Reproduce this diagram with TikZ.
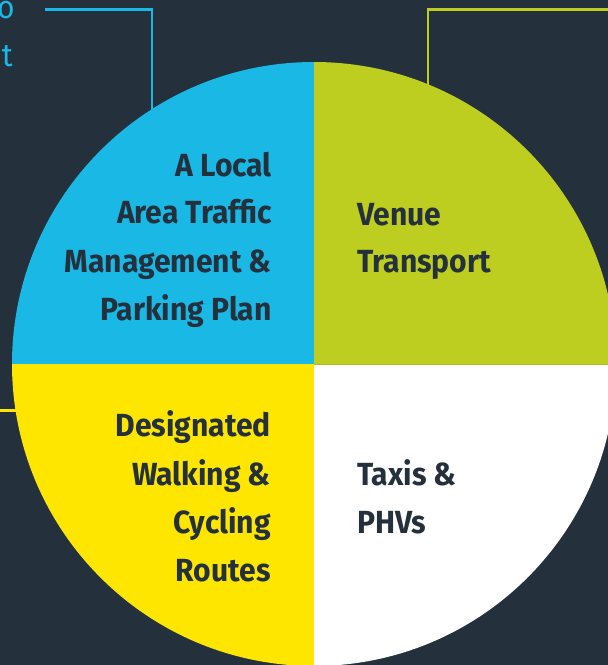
\documentclass[tikz,border=0pt]{standalone}
\usepackage{fontspec}
\setmainfont{Fira Sans}[FakeStretch=0.94]
\definecolor{bg}{HTML}{25303D}
\definecolor{cblue}{HTML}{19B8E5}
\definecolor{cgreen}{HTML}{BDCE20}
\definecolor{cyellow}{HTML}{FFE600}
\definecolor{cline}{HTML}{A9BA1C}
\begin{document}
\begin{tikzpicture}[x=1pt,y=-1pt,
  lbl/.style={inner sep=0pt,text=bg,font=\fontsize{32}{38}\selectfont\bfseries},
  lblr/.style={lbl,anchor=base east},
  lbll/.style={lbl,anchor=base west},
  frag/.style={inner sep=0pt,text=cblue,font=\fontsize{32}{38}\selectfont,anchor=base east},
  conn/.style={line width=#1,line cap=butt,line join=miter}]
\fill[bg] (0,0) rectangle (608,665);
\useasboundingbox (0,0) rectangle (608,665);
\clip (0,0) rectangle (608,665);
\coordinate (c) at (314,364);
\fill[cblue] (c) -- ++(-302pt,0) arc[start angle=180,end angle=90,radius=302pt] -- cycle;
\fill[cgreen] (c) -- ++(0,302pt) arc[start angle=90,end angle=0,radius=302pt] -- cycle;
\fill[cyellow] (c) -- ++(-302pt,0) arc[start angle=180,end angle=270,radius=302pt] -- cycle;
\fill[white] (c) -- ++(302pt,0) arc[start angle=0,end angle=-90,radius=302pt] -- cycle;
\coordinate (lineE) at (616,364);
\draw[cline,line width=1pt] (c) -- (lineE);
% connectors
\coordinate (b0) at (45,9.5);
\coordinate (b1) at (152,9.5);
\coordinate (b2) at (152,110);
\draw[cblue,conn=2.2pt] (b0) -- (b1) -- (b2);
\coordinate (g0) at (610,9.5);
\coordinate (g1) at (428,9.5);
\coordinate (g2) at (428,86);
\draw[cgreen,conn=2.8pt] (g0) -- (g1) -- (g2);
\coordinate (y0) at (-2,410.5);
\coordinate (y1) at (17,410.5);
\draw[cyellow,conn=2.2pt] (y0) -- (y1);
% fragments
\node[frag] (f1) at (15,18) {o};
\node[frag] (f2) at (13,66) {t};
% labels
\node[lblr] (a1) at (272,176) {A Local};
\node[lblr] (a2) at (272,223) {Area Traffic};
\node[lblr] (a3) at (272,272) {Management \&};
\node[lblr] (a4) at (272,320) {Parking Plan};
\node[lbll] (v1) at (357,225) {Venue};
\node[lbll] (v2) at (357,272) {Transport};
\node[lblr] (d1) at (271,436) {Designated};
\node[lblr] (d2) at (271,485) {Walking \&};
\node[lblr] (d3) at (271,533) {Cycling};
\node[lblr] (d4) at (271,581) {Routes};
\node[lbll] (t1) at (357,485) {Taxis \&};
\node[lbll] (t2) at (357,533) {PHVs};
\end{tikzpicture}
\end{document}
